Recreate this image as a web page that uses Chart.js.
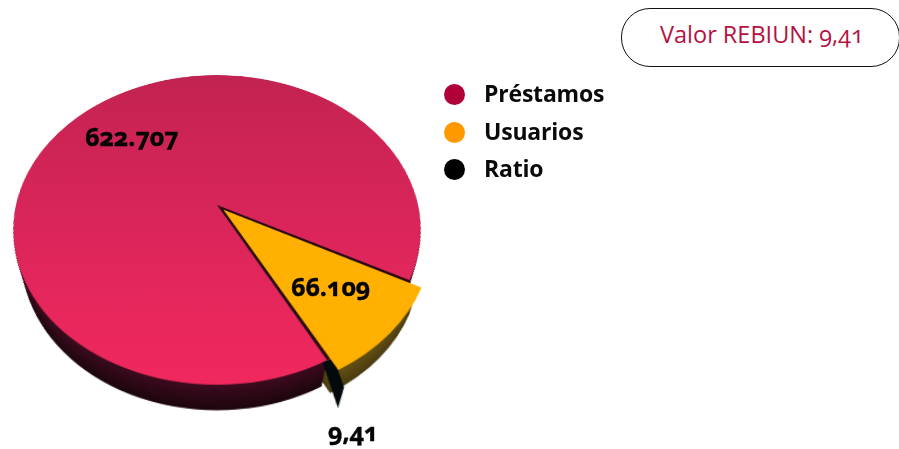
<!DOCTYPE html>
<html lang="es"><head><meta charset="utf-8">
<script src="https://cdn.jsdelivr.net/npm/chart.js@4"></script>
<style>
html,body{margin:0;padding:0;background:#fff;width:899px;height:449px;overflow:hidden}
#stage{position:relative;width:899px;height:449px;overflow:hidden;font-family:"Open Sans",sans-serif;font-variant-numeric:oldstyle-nums;font-feature-settings:"onum"}
#wrap{position:absolute;left:-63px;top:-75px;width:560px;height:560px;transform-origin:50% 50%;transform:perspective(825px) rotateX(41.4deg)}
#pill{position:absolute;left:621px;top:8px;width:277px;height:57px;border:1.5px solid #111;border-radius:29px;box-sizing:content-box}
#pilltext{position:absolute;left:660px;top:17px;color:#b5123f;font-size:23.5px;line-height:34px;white-space:nowrap}
.lg{position:absolute;left:484px;font-weight:700;font-size:23px;line-height:30px;color:#0a0a0a;white-space:nowrap;letter-spacing:-.2px}
.dot{position:absolute;left:443.5px;width:21px;height:21px;border-radius:50%}
.val{position:absolute;font-weight:700;font-size:25px;line-height:30px;color:#050505;white-space:nowrap;-webkit-text-stroke:.4px #050505}
</style></head><body>
<div id="stage">
<div id="wrap"><canvas id="c" width="560" height="560"></canvas></div>
<div id="pill"></div><div id="pilltext"></div>
</div>
<script>
const categories=["Préstamos","Usuarios","Ratio"];
const values=[622707,66109,9.41];
const valueLabels=["622.707","66.109","9,41"];
const legendColors=["#b00039","#ff9900","#000000"];
const summaryText="Valor REBIUN: 9,41";

const stage=document.getElementById('stage');
document.getElementById('pilltext').textContent=summaryText;
const legendTops=[78,116,153], dotTops=[83.5,121.5,158.5];
categories.forEach((n,i)=>{
  const t=document.createElement('div');t.className='lg';t.style.top=legendTops[i]+'px';t.textContent=n;stage.appendChild(t);
  const d=document.createElement('div');d.className='dot';d.style.top=dotTops[i]+'px';d.style.background=legendColors[i];stage.appendChild(d);
});
const labelPos=[[85,121],[291,271],[328,416]];
valueLabels.forEach((v,i)=>{
  const t=document.createElement('div');t.className='val';t.style.left=labelPos[i][0]+'px';t.style.top=labelPos[i][1]+'px';t.textContent=v;stage.appendChild(t);
});

const sideColors=[["#3e0c20","#1e070e"],["#6e5712","#4a3c12"],["#000","#000"]];
function mix(a,b,t){const p=s=>{s=s.slice(1);if(s.length==3)s=s.replace(/./g,'$&$&');return [0,2,4].map(i=>parseInt(s.substr(i,2),16))};
  const A=p(a),B=p(b);return 'rgb('+A.map((v,i)=>Math.round(v+(B[i]-v)*t)).join(',')+')';}
const extrude={id:'extrude',beforeDatasetsDraw(chart){
  const ctx=chart.ctx,arcs=chart.getDatasetMeta(0).data;
  const steps=45,dy=37.5,shrink=0.07;
  for(let s=steps;s>=1;s--){
    const t=s/steps;
    for(const i of [0,1]){
      const a=arcs[i].getProps(['x','y','startAngle','endAngle','outerRadius'],true);
      const off=(arcs[i].options.offset||0)/4, mid=(a.startAngle+a.endAngle)/2;
      ctx.save();
      ctx.translate(a.x+Math.cos(mid)*off,a.y+Math.sin(mid)*off+dy*t);ctx.scale(1-shrink*t,1-shrink*t);
      ctx.fillStyle=mix(sideColors[i][0],sideColors[i][1],t);
      ctx.beginPath();ctx.moveTo(0,0);ctx.arc(0,0,a.outerRadius,a.startAngle,a.endAngle);ctx.closePath();ctx.fill();
      ctx.restore();
    }
  }
  // dark seam: the gap left where the Usuarios slice is pulled out
  const y=arcs[1].getProps(['x','y','startAngle','endAngle','outerRadius'],true);
  ctx.save();ctx.fillStyle='#2a0a14';ctx.beginPath();ctx.moveTo(y.x,y.y);ctx.arc(y.x,y.y,y.outerRadius,y.startAngle,y.endAngle);ctx.closePath();ctx.fill();ctx.restore();
  // Ratio: tiny slice shown as its black side spike
  const r=arcs[2].getProps(['x','y','startAngle','outerRadius'],true);
  const rx=r.x+Math.cos(r.startAngle)*r.outerRadius, ry=r.y+Math.sin(r.startAngle)*r.outerRadius;
  ctx.save();ctx.fillStyle='#030a0c';ctx.beginPath();
  ctx.moveTo(rx-4,ry+2);ctx.lineTo(rx+6,ry-2);ctx.lineTo(rx+12,ry+26);ctx.lineTo(rx+5,ry+45);ctx.closePath();ctx.fill();ctx.restore();
}};
new Chart(document.getElementById('c'),{
  type:'pie',
  data:{labels:categories,datasets:[{data:values,
    backgroundColor(c){
      if(c.dataIndex===1)return '#ffb000';
      if(c.dataIndex===2)return '#000';
      const g=c.chart.ctx.createLinearGradient(0,80,0,480);
      g.addColorStop(0,'#c22350');g.addColorStop(.55,'#d9255a');g.addColorStop(1,'#f0285e');
      return g;},
    borderWidth:0,
    offset:[0,36,0]}]},
  options:{responsive:false,animation:false,rotation:152,radius:201,
    layout:{padding:0},
    plugins:{legend:{display:false},tooltip:{enabled:false}}},
  plugins:[extrude]
});
</script>
</body></html>
